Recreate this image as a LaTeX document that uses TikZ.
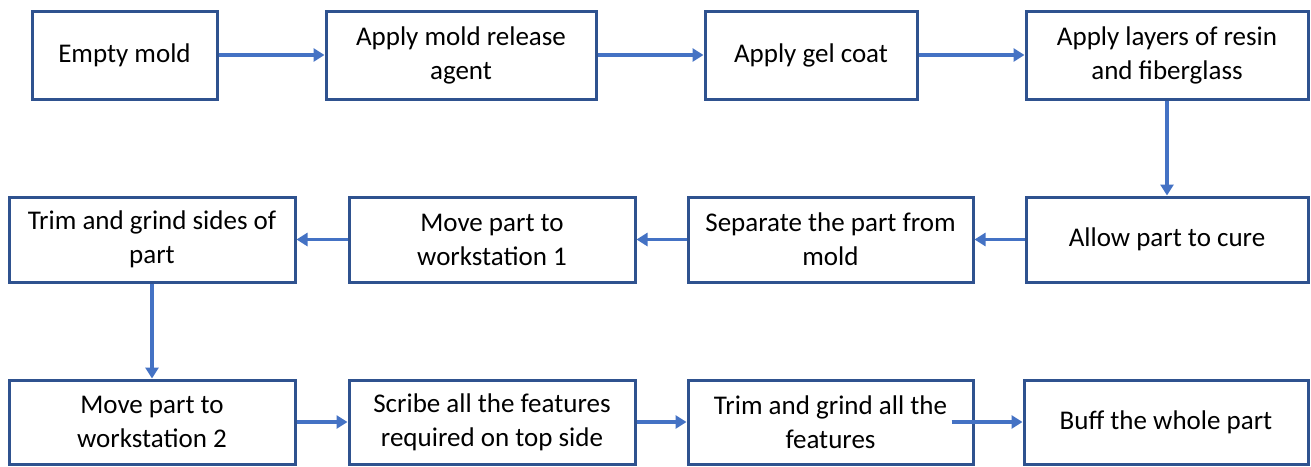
\documentclass[tikz,border=0pt]{standalone}
\usepackage{fontspec}
\setmainfont{Carlito}
\usetikzlibrary{arrows.meta}
\definecolor{boxblue}{HTML}{2F528F}
\definecolor{arrblue}{HTML}{4472C4}
\begin{document}
\begin{tikzpicture}[x=1pt,y=-1pt,
  stepbox/.style={draw=boxblue,line width=3pt,fill=white,align=center,inner sep=0pt,
    font=\fontsize{27}{34}\selectfont,text=black},
  conn/.style={draw=arrblue,line width=3.2pt,-{Triangle[length=11pt,width=13pt]}}]
\useasboundingbox (0,0) rectangle (1311,466);
% row 1
\node[stepbox,minimum width=185pt,minimum height=88pt] (a1) at (124.5,55) {Empty mold};
\node[stepbox,minimum width=270pt,minimum height=88pt] (a2) at (461,55) {Apply mold release\\agent};
\node[stepbox,minimum width=212pt,minimum height=88pt] (a3) at (811,55) {Apply gel coat};
\node[stepbox,minimum width=282pt,minimum height=88pt] (a4) at (1167,55) {Apply layers of resin\\and fiberglass};
% row 2
\node[stepbox,minimum width=286pt,minimum height=85pt] (b1) at (152,239.5) {Trim and grind sides of\\part};
\node[stepbox,minimum width=286pt,minimum height=85pt] (b2) at (492,239.5) {Move part to\\workstation 1};
\node[stepbox,minimum width=285pt,minimum height=85pt] (b3) at (830.5,239.5) {Separate the part from\\mold};
\node[stepbox,minimum width=282pt,minimum height=85pt] (b4) at (1167,239.5) {Allow part to cure};
% row 3
\node[stepbox,minimum width=286pt,minimum height=84pt] (c1) at (152,422) {Move part to\\workstation 2};
\node[stepbox,minimum width=286pt,minimum height=84pt] (c2) at (492,422) {Scribe all the features\\required on top side};
\node[stepbox,minimum width=285pt,minimum height=84pt] (c3) at (830.5,422) {Trim and grind all the\\features};
\node[stepbox,minimum width=284pt,minimum height=84pt] (c4) at (1166,422) {Buff the whole part};
\coordinate (c3s) at ([xshift=-23pt]c3.east);
% connectors
\draw[conn] (a1) -- (a2);
\draw[conn] (a2) -- (a3);
\draw[conn] (a3) -- (a4);
\draw[conn] (a4) -- (b4);
\draw[conn] (b4) -- (b3);
\draw[conn] (b3) -- (b2);
\draw[conn] (b2) -- (b1);
\draw[conn] (b1) -- (c1);
\draw[conn] (c1) -- (c2);
\draw[conn] (c2) -- (c3);
\draw[conn] (c3s) -- (c3s -| c4.west);
\end{tikzpicture}
\end{document}
